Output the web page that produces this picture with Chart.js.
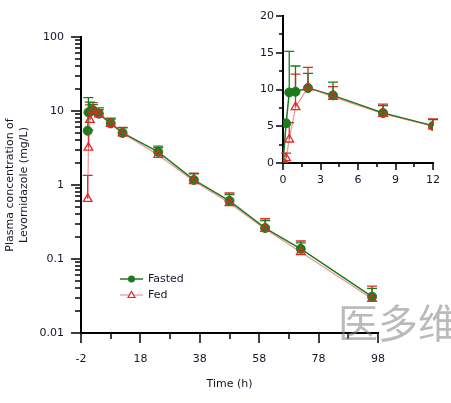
<!DOCTYPE html>
<html><head><meta charset="utf-8">
<script src="https://cdn.jsdelivr.net/npm/chart.js@4.4.1/dist/chart.umd.min.js"></script>
<style>
html,body{margin:0;padding:0;background:#fff;}
#wrap{position:relative;width:451px;height:403px;overflow:hidden;background:#fff;}
#main{position:absolute;left:0;top:0;width:451px;height:403px;}
#inset{position:absolute;left:250px;top:0;width:201px;height:200px;}
#wm{position:absolute;left:338px;top:296px;font-family:"Noto Sans CJK SC";font-size:40px;line-height:50px;color:rgba(130,130,130,0.55);white-space:nowrap;pointer-events:none;}
</style></head>
<body><div id="wrap"><canvas id="main" width="451" height="403"></canvas><canvas id="inset" width="201" height="200"></canvas><div id="wm">医多维</div></div>
<script>
// ---- data ----
const timeH        = [0, 0.25, 0.5, 1, 2, 4, 8, 12, 24, 36, 48, 60, 72, 96];
const fastedMean   = [0, 5.4, 9.6, 9.7, 10.2, 9.2, 6.8, 5.05, 2.8, 1.17, 0.61, 0.262, 0.137, 0.031];
const fastedUpper  = [null, null, 15.2, 13.2, 12.2, 11.0, 7.8, 5.9, 3.35, 1.42, 0.74, 0.33, 0.165, 0.04];
const fedMean      = [0, 0.65, 3.2, 7.6, 10.3, 9.0, 6.7, 5.0, 2.55, 1.13, 0.57, 0.255, 0.124, 0.029];
const fedUpper     = [null, 1.35, 5.5, 12.1, 13.0, 10.4, 8.0, 6.0, 3.2, 1.45, 0.78, 0.35, 0.175, 0.043];

const mainXMajor = [-2, 18, 38, 58, 78, 98];
const mainXMinor = [8, 28, 48, 68, 88];
const mainYMajor = [0.01, 0.1, 1, 10, 100];
const mainYLabels = ['0.01', '0.1', '1', '10', '100'];
const insetXMajor = [0, 3, 6, 9, 12];
const insetXMinor = [1.5, 4.5, 7.5, 10.5];
const insetYMajor = [0, 5, 10, 15, 20];
const insetYMinor = [2.5, 7.5, 12.5, 17.5];
const insetTMax = 12;

const GREEN = '#1c7c1c';
const RED = '#e02828';
const TEXT = '#15152a';
const FONT = 'DejaVu Sans';

const mainYMinor = [];
mainYMajor.slice(0, -1).forEach(d => { for (let k = 2; k <= 9; k++) mainYMinor.push(+(d * k).toPrecision(3)); });

function pts(mean, upper, keep) {
  const out = [];
  timeH.forEach((t, i) => { if (keep(t, mean[i])) out.push({x: t, y: mean[i], up: upper[i]}); });
  return out;
}

function decor(o) {
  return {
    id: 'decor',
    beforeDatasetsDraw(chart) {
      const ctx = chart.ctx, xs = chart.scales.x, ys = chart.scales.y;
      chart.data.datasets.slice().reverse().forEach(ds => {
        ctx.save();
        ctx.strokeStyle = ds.errColor; ctx.lineWidth = 1.3;
        ds.data.forEach(p => {
          if (p.up == null) return;
          const x = xs.getPixelForValue(p.x), y0 = ys.getPixelForValue(p.y), y1 = ys.getPixelForValue(p.up);
          ctx.beginPath(); ctx.moveTo(x, y0); ctx.lineTo(x, y1);
          ctx.moveTo(x - o.cap, y1); ctx.lineTo(x + o.cap, y1); ctx.stroke();
        });
        ctx.restore();
      });
    },
    afterDraw(chart) {
      const ctx = chart.ctx, xs = chart.scales.x, ys = chart.scales.y, a = chart.chartArea;
      ctx.save(); ctx.strokeStyle = '#000'; ctx.lineWidth = 1.5;
      ctx.beginPath();
      o.xMajor.forEach(v => { const p = Math.round(xs.getPixelForValue(v)); ctx.moveTo(p, a.bottom); ctx.lineTo(p, a.bottom + o.maj); });
      o.xMinor.forEach(v => { const p = Math.round(xs.getPixelForValue(v)); ctx.moveTo(p, a.bottom); ctx.lineTo(p, a.bottom + o.min); });
      o.yMajor.forEach(v => { const p = Math.round(ys.getPixelForValue(v)); ctx.moveTo(a.left, p); ctx.lineTo(a.left - o.maj, p); });
      o.yMinor.forEach(v => { const p = Math.round(ys.getPixelForValue(v)); ctx.moveTo(a.left, p); ctx.lineTo(a.left - o.min, p); });
      ctx.stroke(); ctx.restore();
      if (o.legend) {
        ctx.save();
        ctx.font = '11px "' + FONT + '"'; ctx.textBaseline = 'middle';
        const lx = a.left + 39, ly = a.top + 242;
        ctx.strokeStyle = GREEN; ctx.lineWidth = 1.5;
        ctx.beginPath(); ctx.moveTo(lx, ly); ctx.lineTo(lx + 23, ly); ctx.stroke();
        ctx.fillStyle = GREEN; ctx.beginPath(); ctx.arc(lx + 11.5, ly, 3.5, 0, Math.PI * 2); ctx.fill();
        ctx.strokeStyle = 'rgba(230,90,90,0.8)'; ctx.lineWidth = 1;
        ctx.beginPath(); ctx.moveTo(lx, ly + 16); ctx.lineTo(lx + 23, ly + 16); ctx.stroke();
        ctx.strokeStyle = RED; ctx.lineWidth = 1.2; ctx.fillStyle = '#fff';
        ctx.beginPath(); ctx.moveTo(lx + 11.5, ly + 12.5); ctx.lineTo(lx + 15, ly + 18.5); ctx.lineTo(lx + 8, ly + 18.5); ctx.closePath(); ctx.fill(); ctx.stroke();
        ctx.fillStyle = TEXT;
        ctx.fillText('Fasted', lx + 28, ly);
        ctx.fillText('Fed', lx + 28, ly + 16);
        ctx.restore();
      }
    }
  };
}

function datasets(keep) {
  return [
    {label: 'Fasted', data: pts(fastedMean, fastedUpper, keep), order: 2, errColor: GREEN,
     borderColor: GREEN, borderWidth: 1.5, pointStyle: 'circle', pointRadius: 4.5,
     pointBackgroundColor: GREEN, pointBorderColor: GREEN, pointBorderWidth: 1, showLine: true, tension: 0},
    {label: 'Fed', data: pts(fedMean, fedUpper, keep), order: 1, errColor: RED,
     borderColor: 'rgba(220,60,60,0.55)', borderWidth: 1.2, pointStyle: 'triangle', pointRadius: 5,
     pointBackgroundColor: 'rgba(255,255,255,0)', pointBorderColor: RED, pointBorderWidth: 1.3, showLine: true, tension: 0}
  ];
}

const tickFont = {family: FONT, size: 11};

new Chart(document.getElementById('main'), {
  type: 'scatter',
  data: {datasets: datasets((t, v) => v > 0)},
  options: {
    responsive: false, animation: false, devicePixelRatio: 1,
    layout: {padding: {left: 0, top: 37, right: 73, bottom: 0}},
    plugins: {legend: {display: false}, tooltip: {enabled: false}},
    scales: {
      x: {type: 'linear', min: -2, max: 98,
          afterBuildTicks: s => { s.ticks = mainXMajor.map(v => ({value: v})); },
          afterFit: s => { s.height = 70; },
          grid: {display: false, drawTicks: false},
          border: {display: true, color: '#000', width: 2},
          ticks: {autoSkip: false, maxRotation: 0, padding: 20, color: TEXT, font: tickFont, callback: v => String(v)},
          title: {display: true, text: 'Time (h)', color: TEXT, font: {family: FONT, size: 11}, padding: {top: 0, bottom: 12}}},
      y: {type: 'logarithmic', min: 0.01, max: 100,
          afterBuildTicks: s => { s.ticks = mainYMajor.map(v => ({value: v})); },
          afterFit: s => { s.width = 81; },
          grid: {display: false, drawTicks: false},
          border: {display: true, color: '#000', width: 2},
          ticks: {autoSkip: false, padding: 17, color: TEXT, font: tickFont,
                  callback: v => { const i = mainYMajor.findIndex(m => Math.abs(m - v) < 1e-9); return i >= 0 ? mainYLabels[i] : ''; }},
          title: {display: true, text: ['Plasma concentration of', 'Levornidazole (mg/L)'], color: TEXT, font: {family: FONT, size: 11}, padding: {top: 4, bottom: 0}}}
    }
  },
  plugins: [decor({cap: 5, maj: 10, min: 6, xMajor: mainXMajor, xMinor: mainXMinor, yMajor: mainYMajor, yMinor: mainYMinor, legend: true})]
});

new Chart(document.getElementById('inset'), {
  type: 'scatter',
  data: {datasets: datasets((t, v) => t <= insetTMax)},
  options: {
    responsive: false, animation: false, devicePixelRatio: 1,
    layout: {padding: {left: 0, top: 16, right: 18, bottom: 0}},
    plugins: {legend: {display: false}, tooltip: {enabled: false}},
    scales: {
      x: {type: 'linear', min: 0, max: insetTMax,
          afterBuildTicks: s => { s.ticks = insetXMajor.map(v => ({value: v})); },
          afterFit: s => { s.height = 37; },
          grid: {display: false, drawTicks: false},
          border: {display: true, color: '#000', width: 2},
          ticks: {autoSkip: false, maxRotation: 0, padding: 11, color: TEXT, font: tickFont}},
      y: {type: 'linear', min: 0, max: 20,
          afterBuildTicks: s => { s.ticks = insetYMajor.map(v => ({value: v})); },
          afterFit: s => { s.width = 33; },
          grid: {display: false, drawTicks: false},
          border: {display: true, color: '#000', width: 2},
          ticks: {autoSkip: false, padding: 9, color: TEXT, font: tickFont}}
    }
  },
  plugins: [decor({cap: 5, maj: 7, min: 4, xMajor: insetXMajor, xMinor: insetXMinor, yMajor: insetYMajor, yMinor: insetYMinor, legend: false})]
});
</script>
</body></html>
